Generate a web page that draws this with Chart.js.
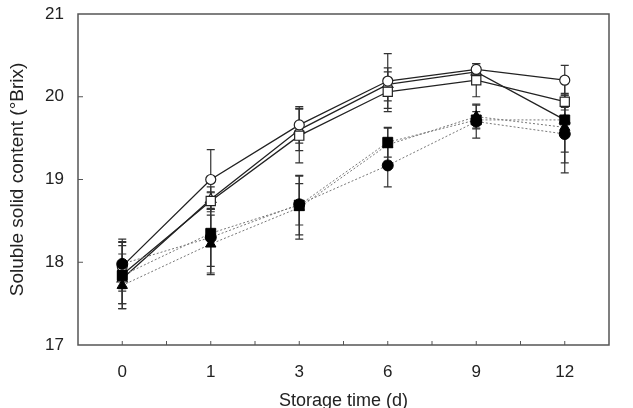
<!DOCTYPE html>
<html>
<head>
<meta charset="utf-8">
<script src="https://cdn.jsdelivr.net/npm/chart.js@4"></script>
<style>
  html, body { margin: 0; padding: 0; background: #fff; }
  #wrap { width: 633px; height: 408px; }
</style>
</head>
<body>
<div id="wrap"><canvas id="ssc" width="633" height="408"></canvas></div>
<script>
// storage days (categorical, evenly spaced)
const days = ["0", "1", "3", "6", "9", "12"];
const yTicks = [17, 18, 19, 20, 21];

// means
const openCircle = [17.95, 19.0, 19.66, 20.19, 20.33, 20.2];
const openSquare = [17.85, 18.74, 19.53, 20.06, 20.2, 19.94];
const openTriangle = [17.8, 18.76, 19.6, 20.15, 20.3, 19.72];
const filledCircle = [17.98, 18.3, 18.7, 19.17, 19.7, 19.55];
const filledSquare = [17.84, 18.35, 18.69, 19.45, 19.72, 19.72];
const filledTriangle = [17.72, 18.22, 18.66, 19.42, 19.76, 19.63];

// error bars (+/-)
const openCircleErr = [0.3, 0.36, 0.22, 0.33, 0.07, 0.18];
const openSquareErr = [0.35, 0.1, 0.33, 0.24, 0.2, 0.1];
const openTriangleErr = [0.3, 0.15, 0.25, 0.2, 0.05, 0.15];
const filledCircleErr = [0.3, 0.35, 0.25, 0.26, 0.2, 0.47];
const filledSquareErr = [0.4, 0.5, 0.36, 0.18, 0.1, 0.52];
const filledTriangleErr = [0.28, 0.35, 0.38, 0.2, 0.15, 0.3];

const FONT = "'Liberation Sans', Arial, sans-serif";

function solid(data, err, style, r) {
  return {
    data: data, err: err,
    borderColor: "#222", borderWidth: 1.3,
    pointStyle: style, pointRadius: r, pointHoverRadius: r,
    pointBackgroundColor: "#fff", pointBorderColor: "#222", pointBorderWidth: 1.2,
    tension: 0,
  };
}
function dotted(data, err, style, r) {
  return {
    data: data, err: err,
    borderColor: "#777", borderWidth: 1, borderDash: [2, 2],
    pointStyle: style, pointRadius: r, pointHoverRadius: r,
    pointBackgroundColor: "#000", pointBorderColor: "#000", pointBorderWidth: 1,
    tension: 0,
  };
}

// error bars under the markers
const errorBars = {
  id: "errorBars",
  beforeDatasetsDraw(chart) {
    const c = chart.ctx;
    const y = chart.scales.y;
    c.save();
    c.strokeStyle = "#333";
    c.lineWidth = 1.2;
    chart.data.datasets.forEach((ds, i) => {
      chart.getDatasetMeta(i).data.forEach((pt, j) => {
        const top = y.getPixelForValue(ds.data[j] + ds.err[j]);
        const bot = y.getPixelForValue(ds.data[j] - ds.err[j]);
        c.beginPath();
        c.moveTo(pt.x, top); c.lineTo(pt.x, bot);
        c.moveTo(pt.x - 4, top); c.lineTo(pt.x + 4, top);
        c.moveTo(pt.x - 4, bot); c.lineTo(pt.x + 4, bot);
        c.stroke();
      });
    });
    c.restore();
  },
};

// box frame + inward tick marks
const frame = {
  id: "frame",
  afterDraw(chart) {
    const c = chart.ctx;
    const a = chart.chartArea;
    const y = chart.scales.y;
    c.save();
    c.strokeStyle = "#555";
    c.lineWidth = 1.5;
    c.strokeRect(a.left, a.top, a.right - a.left, a.bottom - a.top);
    c.lineWidth = 1;
    c.beginPath();
    const step = (a.right - a.left) / days.length / 2;
    for (let k = 1; k < days.length * 2; k++) {
      const x = a.left + step * k;
      c.moveTo(x, a.bottom); c.lineTo(x, a.bottom - 4);
    }
    yTicks.slice(1, -1).forEach(v => {
      const py = y.getPixelForValue(v);
      c.moveTo(a.left, py); c.lineTo(a.left + 5, py);
    });
    c.stroke();
    c.restore();
  },
};

new Chart(document.getElementById("ssc"), {
  type: "line",
  data: {
    labels: days,
    datasets: [
      dotted(filledCircle, filledCircleErr, "circle", 5.5),
      dotted(filledSquare, filledSquareErr, "rect", 7),
      dotted(filledTriangle, filledTriangleErr, "triangle", 6),
      solid(openCircle, openCircleErr, "circle", 5),
      solid(openSquare, openSquareErr, "rect", 6.5),
      solid(openTriangle, openTriangleErr, "triangle", 6),
    ],
  },
  options: {
    responsive: false,
    animation: false,
    devicePixelRatio: 1,
    layout: { padding: { top: 14, right: 24, left: 0, bottom: 0 } },
    plugins: { legend: { display: false }, tooltip: { enabled: false } },
    scales: {
      x: {
        offset: true,
        grid: { display: false, drawTicks: false },
        border: { display: false },
        ticks: { color: "#222", font: { family: FONT, size: 17 }, padding: 17, maxRotation: 0 },
        title: {
          display: true, text: "Storage time (d)", color: "#222",
          font: { family: FONT, size: 18 }, padding: { top: 0, bottom: -4 },
        },
        afterFit(scale) { scale.height = 63; },
      },
      y: {
        min: 17, max: 21,
        grid: { display: false, drawTicks: false },
        border: { display: false },
        ticks: { stepSize: 1, color: "#222", font: { family: FONT, size: 17 }, padding: 14 },
        title: {
          display: true, text: "Soluble solid content (°Brix)", color: "#222",
          font: { family: FONT, size: 19 }, padding: { top: 6, bottom: 0 },
        },
        afterFit(scale) {
          scale.width = 78;
          scale.paddingTop = 0;
          scale.paddingBottom = 0;
        },
      },
    },
  },
  plugins: [errorBars, frame],
});
</script>
</body>
</html>
